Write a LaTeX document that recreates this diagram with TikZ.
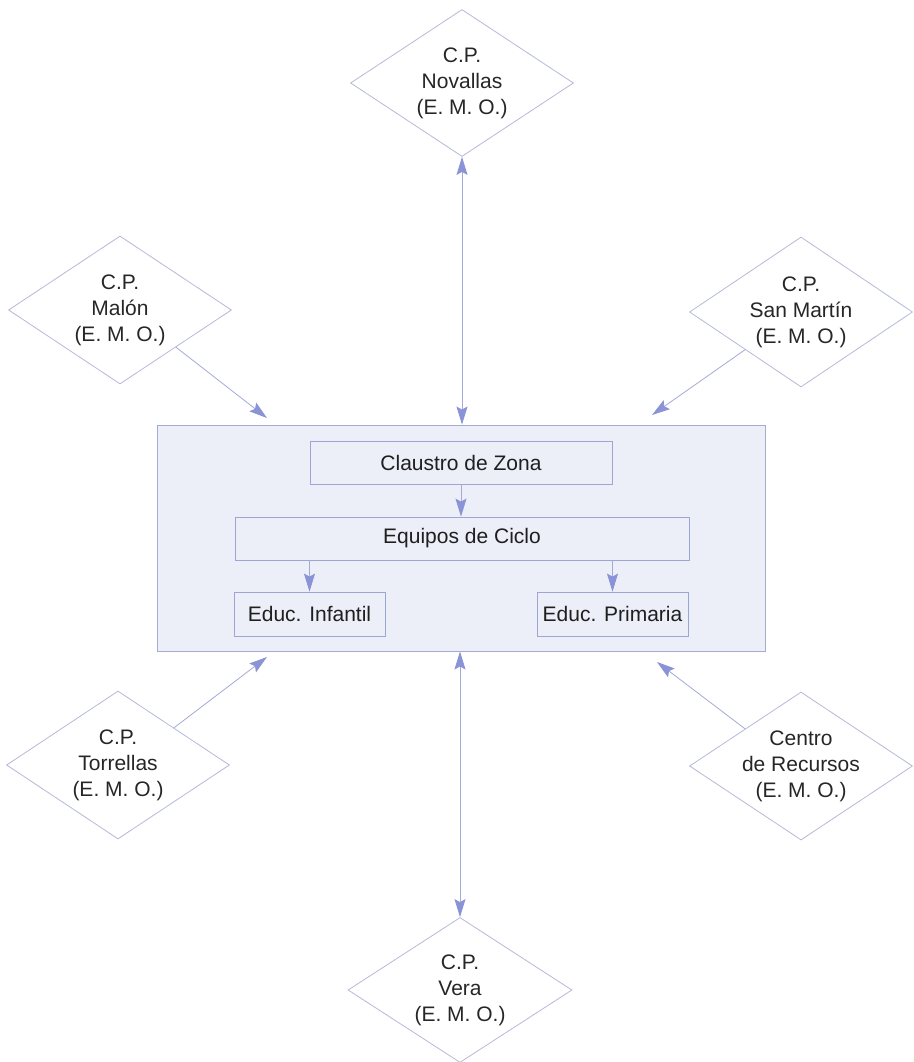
\documentclass[tikz,border=0pt]{standalone}
\usepackage{fontspec}
\setmainfont{Liberation Sans}
\usetikzlibrary{shapes.geometric,arrows.meta}
\definecolor{arrowc}{HTML}{8A93D6}
\definecolor{linec}{HTML}{A3A9D8}
\definecolor{diac}{HTML}{B5B9D6}
\definecolor{zonefill}{HTML}{ECEEF8}
\definecolor{zoneline}{HTML}{A6ABD2}
\definecolor{boxline}{HTML}{9EA4D4}
\begin{document}
\begin{tikzpicture}[x=1pt,y=-1pt,
  >={Stealth[length=18pt,width=11pt,inset=3pt,color=arrowc]},
  dia/.style={diamond, draw=diac, line width=0.8pt, minimum width=223pt, minimum height=147pt, inner sep=0pt},
  diatext/.style={align=center, font=\fontsize{21}{26}\selectfont, text=black!85, inner sep=0pt},
  zone/.style={draw=zoneline, fill=zonefill, line width=0.9pt, inner sep=0pt},
  unit/.style={draw=boxline, fill=zonefill, line width=0.8pt, font=\fontsize{21}{26}\selectfont, text=black!88, inner sep=0pt},
  conn/.style={draw=linec, line width=0.8pt, ->},
  bconn/.style={draw=linec, line width=0.8pt, <->}
]
\useasboundingbox (0,0) rectangle (913,1062);

% central zone
\node[zone, minimum width=608pt, minimum height=226pt] (zone) at (461,538) {};
\node[unit, minimum width=302pt, minimum height=43pt] (claustro) at (461,462.5) {Claustro de Zona};
\node[unit, minimum width=454pt, minimum height=43pt] (equipos) at (462,538.5) {Equipos de Ciclo};
\node[unit, minimum width=151pt, minimum height=44pt] (infantil) at (309.5,614) {Educ. Infantil};
\node[unit, minimum width=151pt, minimum height=44pt] (primaria) at (612.5,614) {Educ. Primaria};

\draw[conn] (claustro.south) -- (claustro.south |- equipos.north);
\draw[conn] (equipos.south -| infantil.north) -- (infantil.north);
\draw[conn] (equipos.south -| primaria.north) -- (primaria.north);

% diamonds
\node[dia] (nov) at (462,83) {};
\node[diatext] (novt) at (nov.center) {C.P.\\Novallas\\(E. M. O.)};
\node[dia, minimum height=148pt] (malon) at (120,310) {};
\node[diatext] (malont) at (malon.center) {C.P.\\Malón\\(E. M. O.)};
\node[dia, minimum height=150pt] (sanm) at (801,312) {};
\node[diatext] (sanmt) at (sanm.center) {C.P.\\San Martín\\(E. M. O.)};
\node[dia, minimum height=148pt] (torr) at (118,765) {};
\node[diatext] (torrt) at (torr.center) {C.P.\\Torrellas\\(E. M. O.)};
\node[dia, minimum height=148pt] (cent) at (801,766) {};
\node[diatext] (centt) at (cent.center) {Centro\\de Recursos\\(E. M. O.)};
\node[dia, minimum width=224pt, minimum height=145pt] (vera) at (460,990) {};
\node[diatext] (verat) at (vera.center) {C.P.\\Vera\\(E. M. O.)};

% connector ends
\coordinate (mtip) at (267,418);
\coordinate (stip) at (652,415);
\coordinate (ttip) at (267,657);
\coordinate (ctip) at (657,662);

\draw[bconn] (nov.south) -- (nov.south |- zone.north);
\draw[bconn] (vera.north) -- (vera.north |- zone.south);
\draw[conn] (malon.south east) -- (mtip);
\draw[conn] (sanm.south west) -- (stip);
\draw[conn] (torr.north east) -- (ttip);
\draw[conn] (cent.north west) -- (ctip);
\end{tikzpicture}
\end{document}
